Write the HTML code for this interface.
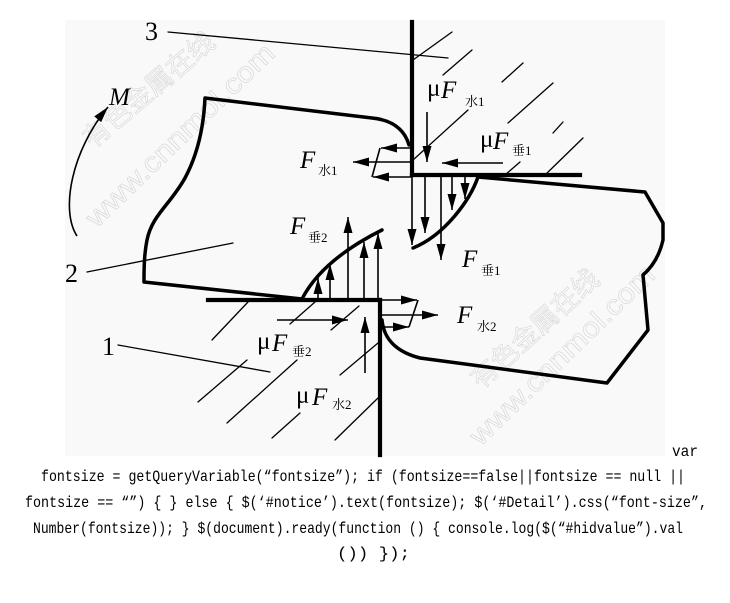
<!DOCTYPE html>
<html>
<head>
<meta charset="utf-8">
<style>
html,body{margin:0;padding:0;background:#fff;width:730px;height:603px;overflow:hidden;}
svg{position:absolute;left:0;top:0;}
.fi{font-family:"Liberation Serif",serif;font-style:italic;font-size:25px;fill:#000;}
.mu{font-family:"Liberation Serif",serif;font-size:25px;fill:#000;}
.sub{font-family:"Liberation Serif","Noto Serif CJK SC",serif;font-size:13px;fill:#000;}
.num{font-family:"Liberation Serif",serif;font-size:26px;fill:#000;}
.code{font-family:"Liberation Mono","Noto Sans CJK SC",monospace;font-size:16px;fill:#000;}
.wm{font-family:"Liberation Sans","Noto Sans CJK SC",sans-serif;fill:#fbfbfb;stroke:#d9d9d9;stroke-width:0.7;}
</style>
</head>
<body>
<svg width="730" height="603" viewBox="0 0 730 603" xmlns="http://www.w3.org/2000/svg">
<defs>
<marker id="ah" markerUnits="userSpaceOnUse" markerWidth="17" markerHeight="10" refX="16" refY="5" orient="auto" overflow="visible">
<path d="M0,0.5 L16,5 L0,9.5 Z" fill="#000"/>
</marker>
</defs>

<!-- image background -->
<rect x="65" y="20" width="600" height="436" fill="#f9f9f9"/>

<!-- watermarks -->
<g transform="translate(149,90) rotate(-40)"><text class="wm" font-size="27" text-anchor="middle" dominant-baseline="central">有色金属在线</text></g>
<g transform="translate(180,135) rotate(-44)"><text class="wm" font-size="28" text-anchor="middle" dominant-baseline="central" textLength="250" lengthAdjust="spacingAndGlyphs">www.cnnmol.com</text></g>
<g transform="translate(535,329) rotate(-42)"><text class="wm" font-size="27" text-anchor="middle" dominant-baseline="central">有色金属在线</text></g>
<g transform="translate(562,355) rotate(-44)"><text class="wm" font-size="28" text-anchor="middle" dominant-baseline="central" textLength="245" lengthAdjust="spacingAndGlyphs">www.cnnmol.com</text></g>

<!-- hatch lines and leaders -->
<g stroke="#000" stroke-width="1.3" fill="none" stroke-linecap="round">
<line x1="413" y1="60" x2="452" y2="32"/>
<line x1="443" y1="75" x2="472" y2="50"/>
<line x1="502" y1="82" x2="523" y2="63"/>
<line x1="413" y1="160" x2="468" y2="110"/>
<line x1="508" y1="123" x2="553" y2="83"/>
<line x1="553" y1="133" x2="563" y2="122"/>
<line x1="505" y1="175" x2="520" y2="162"/>
<line x1="545" y1="175" x2="583" y2="138"/>
<line x1="168" y1="32" x2="448" y2="58"/>

<line x1="212" y1="340" x2="248" y2="302"/>
<line x1="198" y1="402" x2="247" y2="360"/>
<line x1="227" y1="423" x2="297" y2="360"/>
<line x1="272" y1="438" x2="300" y2="413"/>
<line x1="290" y1="324" x2="315" y2="302"/>
<line x1="331" y1="330" x2="359" y2="306"/>
<line x1="340" y1="375" x2="378" y2="343"/>
<line x1="335" y1="440" x2="378" y2="398"/>
<line x1="118" y1="345" x2="270" y2="372"/>
<line x1="87" y1="272" x2="233" y2="243"/>
</g>

<!-- blocks -->
<g stroke="#000" stroke-width="3.5" fill="none" stroke-linejoin="round" stroke-linecap="round">
<path d="M409,145 Q402,121 372,118 L205,98 C204,120 200,150 185,178 C170,205 152,215 147,240 C144,255 144,270 144,282 L302,299 Q322,260 382,230"/>
<path d="M413,248 C445,235 470,200 478,177 L645,192 L663,223 L663,240 Q658,262 643,275 L648,330 L607,383 L420,358 C397,352 384,340 382,320"/>
</g>

<!-- tools -->
<g stroke="#000" stroke-width="4.2" fill="none" stroke-linecap="square">
<line x1="412" y1="22" x2="412" y2="175"/>
<line x1="412" y1="175" x2="580" y2="175"/>
<line x1="208" y1="300" x2="380" y2="300"/>
<line x1="380" y1="300" x2="380" y2="455"/>
</g>

<!-- arrows -->
<g stroke="#000" stroke-width="1.6" fill="none">
<line x1="412" y1="177" x2="412" y2="245" marker-end="url(#ah)"/>
<line x1="425" y1="177" x2="425" y2="233" marker-end="url(#ah)"/>
<line x1="441" y1="177" x2="441" y2="260" marker-end="url(#ah)"/>
<line x1="452" y1="177" x2="452" y2="210" marker-end="url(#ah)"/>
<line x1="465" y1="177" x2="465" y2="199" marker-end="url(#ah)"/>
<line x1="411" y1="148" x2="381" y2="148" marker-end="url(#ah)"/>
<line x1="411" y1="162" x2="353" y2="162" marker-end="url(#ah)"/>
<line x1="411" y1="177" x2="373" y2="177" marker-end="url(#ah)"/>
<line x1="380" y1="148" x2="372" y2="177"/>
<line x1="318" y1="299" x2="318" y2="278" marker-end="url(#ah)"/>
<line x1="330" y1="299" x2="330" y2="264" marker-end="url(#ah)"/>
<line x1="348" y1="299" x2="348" y2="217" marker-end="url(#ah)"/>
<line x1="364" y1="299" x2="364" y2="242" marker-end="url(#ah)"/>
<line x1="378" y1="299" x2="378" y2="233" marker-end="url(#ah)"/>
<line x1="381" y1="300" x2="417" y2="300" marker-end="url(#ah)"/>
<line x1="381" y1="315" x2="438" y2="315" marker-end="url(#ah)"/>
<line x1="381" y1="327" x2="409" y2="327" marker-end="url(#ah)"/>
<line x1="418" y1="300" x2="409" y2="327"/>
<line x1="427" y1="112" x2="427" y2="162" marker-end="url(#ah)"/>
<line x1="503" y1="163" x2="442" y2="163" marker-end="url(#ah)"/>
<line x1="277" y1="320" x2="348" y2="320" marker-end="url(#ah)"/>
<line x1="365" y1="373" x2="365" y2="317" marker-end="url(#ah)"/>
<path d="M77,236 C60,210 72,150 108,107" marker-end="url(#ah)"/>
</g>

<!-- labels -->
<text class="num" x="145" y="40">3</text>
<text class="num" x="65" y="282">2</text>
<text class="num" x="102" y="355">1</text>
<text class="fi" x="109" y="105" font-size="25">M</text>

<text class="fi" x="300" y="168">F</text><text class="sub" x="318" y="175">水1</text>
<text class="fi" x="290" y="234">F</text><text class="sub" x="308" y="242">垂2</text>
<text class="fi" x="462" y="267">F</text><text class="sub" x="481" y="275">垂1</text>
<text class="fi" x="457" y="323">F</text><text class="sub" x="477" y="331">水2</text>

<text class="mu" x="427" y="96">μ</text><text class="fi" x="441" y="98">F</text><text class="sub" x="465" y="106">水1</text>
<text class="mu" x="480" y="147">μ</text><text class="fi" x="493" y="149">F</text><text class="sub" x="512" y="155">垂1</text>
<text class="mu" x="257" y="349">μ</text><text class="fi" x="272" y="351">F</text><text class="sub" x="292" y="356">垂2</text>
<text class="mu" x="296" y="403">μ</text><text class="fi" x="312" y="405">F</text><text class="sub" x="332" y="409">水2</text>

<!-- code text -->
<text class="code" x="672" y="456" textLength="26" lengthAdjust="spacingAndGlyphs">var</text>
<text class="code" x="41" y="481" textLength="644" lengthAdjust="spacingAndGlyphs">fontsize = getQueryVariable(“fontsize”); if (fontsize==false||fontsize == null ||</text>
<text class="code" x="25" y="507" textLength="682" lengthAdjust="spacingAndGlyphs">fontsize == “”) { } else { $(‘#notice’).text(fontsize); $(‘#Detail’).css(“font-size”,</text>
<text class="code" x="33" y="533" textLength="650" lengthAdjust="spacingAndGlyphs">Number(fontsize)); } $(document).ready(function () { console.log($(“#hidvalue”).val</text>
<text class="code" x="337" y="558" textLength="73" lengthAdjust="spacingAndGlyphs">()) });</text>
</svg>
</body>
</html>
